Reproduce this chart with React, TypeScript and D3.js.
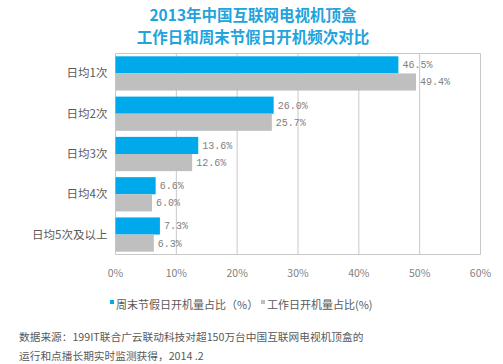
import React, { useEffect, useRef } from "react";
import * as d3 from "d3";

const categories = ["日均1次", "日均2次", "日均3次", "日均4次", "日均5次及以上"];
const weekendValues = [46.5, 26.0, 13.6, 6.6, 7.3];
const workdayValues = [49.4, 25.7, 12.6, 6.0, 6.3];
const tickValues = [0, 10, 20, 30, 40, 50, 60];
const seriesNames = ["周末节假日开机量占比（%）", "工作日开机量占比(%)"];
const titleLines = ["2013年中国互联网电视机顶盒", "工作日和周末节假日开机频次对比"];
const sourceLines = [
  "数据来源：199IT联合广云联动科技对超150万台中国互联网电视机顶盒的",
  "运行和点播长期实时监测获得，2014 .2",
];

const BLUE = "#00a8ec";
const GRAY = "#bfbfbf";
const FONT = "'Noto Sans CJK SC', 'DejaVu Sans', sans-serif";

const App: React.FC = () => {
  const svgRef = useRef<SVGSVGElement>(null);
  const width = 503;
  const height = 364;

  useEffect(() => {
    if (!svgRef.current) return;
    const svg = d3.select(svgRef.current);
    svg.selectAll("*").remove();

    const left = 115.5;
    const right = 480.5;
    const top = 53.5;
    const bottom = 254.5;

    const x = d3.scaleLinear().domain([0, 60]).range([left, right]);
    const y = d3
      .scaleBand<string>()
      .domain(categories)
      .range([top, bottom])
      .paddingInner(0.15)
      .paddingOuter(0.07);

    // title
    svg
      .selectAll(".title")
      .data(titleLines)
      .join("text")
      .attr("x", 253)
      .attr("y", (d, i) => 21 + i * 22)
      .attr("text-anchor", "middle")
      .style("font-family", FONT)
      .style("font-size", "15.5px")
      .style("font-weight", "bold")
      .style("fill", "#22a3dc")
      .text((d) => d);

    // grid lines
    svg
      .selectAll(".grid")
      .data(tickValues)
      .join("line")
      .attr("x1", (d) => x(d))
      .attr("x2", (d) => x(d))
      .attr("y1", top)
      .attr("y2", bottom)
      .attr("stroke", "#c8c8c8")
      .attr("stroke-width", 1);

    svg
      .selectAll(".hline")
      .data([top, bottom])
      .join("line")
      .attr("x1", left)
      .attr("x2", right)
      .attr("y1", (d) => d)
      .attr("y2", (d) => d)
      .attr("stroke", "#c8c8c8");

    const bh = y.bandwidth() / 2;

    // bars
    const groups = svg
      .selectAll(".cat")
      .data(categories)
      .join("g")
      .attr("transform", (d) => `translate(0,${y(d)})`);

    groups
      .append("rect")
      .attr("x", left)
      .attr("y", 0)
      .attr("width", (d, i) => x(weekendValues[i]) - left)
      .attr("height", bh)
      .attr("fill", BLUE);

    groups
      .append("rect")
      .attr("x", left)
      .attr("y", bh)
      .attr("width", (d, i) => x(workdayValues[i]) - left)
      .attr("height", bh)
      .attr("fill", GRAY);

    const labelStyle = (sel: d3.Selection<SVGTextElement, string, any, any>) =>
      sel
        .style("font-family", "'Liberation Mono', monospace")
        .style("font-size", "10px")
        .style("fill", "#7f7f7f");

    groups
      .append("text")
      .attr("x", (d, i) => x(weekendValues[i]) + 4)
      .attr("y", bh / 2)
      .attr("dy", "0.35em")
      .call(labelStyle)
      .text((d, i) => weekendValues[i].toFixed(1) + "%");

    groups
      .append("text")
      .attr("x", (d, i) => x(workdayValues[i]) + 4)
      .attr("y", bh * 1.5)
      .attr("dy", "0.35em")
      .call(labelStyle)
      .text((d, i) => workdayValues[i].toFixed(1) + "%");

    // category labels
    groups
      .append("text")
      .attr("x", left - 8)
      .attr("y", bh)
      .attr("dy", "0.35em")
      .attr("text-anchor", "end")
      .style("font-family", FONT)
      .style("font-size", "11.5px")
      .style("fill", "#595959")
      .text((d) => d);

    // x tick labels
    svg
      .selectAll(".tick")
      .data(tickValues)
      .join("text")
      .attr("x", (d) => x(d))
      .attr("y", 277)
      .attr("text-anchor", "middle")
      .style("font-family", FONT)
      .style("font-size", "10.5px")
      .style("fill", "#7f7f7f")
      .text((d) => `${d}%`);

    // legend
    const legendX = [110, 261];
    const legendColors = [BLUE, GRAY];
    const legend = svg
      .selectAll(".legend")
      .data(seriesNames)
      .join("g")
      .attr("transform", (d, i) => `translate(${legendX[i]},306)`);

    legend
      .append("rect")
      .attr("x", 0)
      .attr("y", -6)
      .attr("width", 4)
      .attr("height", 4)
      .attr("fill", (d, i) => legendColors[i]);

    legend
      .append("text")
      .attr("x", 6)
      .attr("y", 0)
      .attr("dy", "0.3em")
      .style("font-family", FONT)
      .style("font-size", "11px")
      .style("fill", "#595959")
      .text((d) => d);

    // source
    svg
      .selectAll(".source")
      .data(sourceLines)
      .join("text")
      .attr("x", 19)
      .attr("y", (d, i) => 341 + i * 19)
      .style("font-family", FONT)
      .style("font-size", "10.7px")
      .style("fill", "#595959")
      .text((d) => d);
  }, []);

  return (
    <svg
      ref={svgRef}
      width={width}
      height={height}
      style={{ position: "absolute", left: 0, top: 0, background: "#fff" }}
    />
  );
};

export default App;
